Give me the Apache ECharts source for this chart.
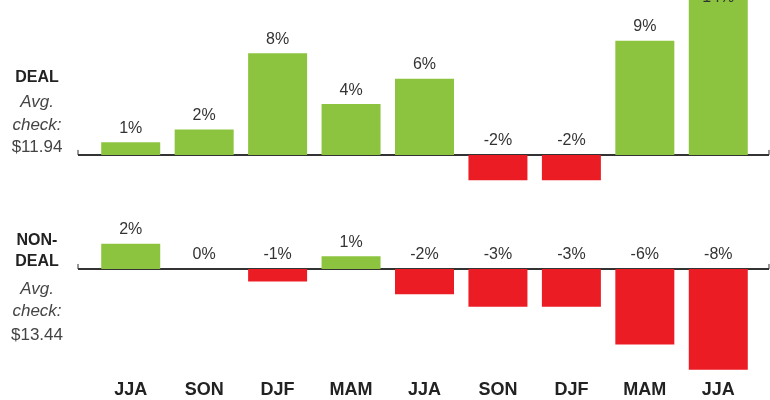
<!DOCTYPE html>
<html>
<head>
<meta charset="utf-8">
<script src="https://cdn.jsdelivr.net/npm/echarts@6/dist/echarts.min.js"></script>
<style>
  html, body { margin: 0; padding: 0; background: #fff; }
  #chart { width: 770px; height: 400px; }
</style>
</head>
<body>
<div id="chart"></div>
<script>
// seasons (quarters) on the x axis
const seasons = ['JJA', 'SON', 'DJF', 'MAM', 'JJA', 'SON', 'DJF', 'MAM', 'JJA'];
// percent change, deal vs non-deal
const dealValues = [1, 2, 8, 4, 6, -2, -2, 9, 14];
const nonDealValues = [2, 0, -1, 1, -2, -3, -3, -6, -8];

const GREEN = '#8cc43f';
const RED = '#ec1c24';
const FONT = '"Liberation Sans", Arial, sans-serif';

function barColor(p) {
  return p.value < 0 ? RED : GREEN;
}

let valueLabel = {
  show: true,
  position: 'top',
  distance: 6,
  formatter: '{c}%',
  color: '#333',
  fontSize: 16,
  fontFamily: FONT
}

// last deal bar runs off the top, label shows inside the cut
const dealData = dealValues.map((v, i) => {
  if (i === dealValues.length - 1) {
    return { value: v, label: { position: 'insideTop', offset: [0, -16] } }
  }
  return v
})

let option = {
  animation: false,
  grid: [
    { left: 94, right: 15, top: 0, height: 193 },
    { left: 94, right: 15, top: 206, height: 170 }
  ],
  xAxis: [
    {
      type: 'category', gridIndex: 0, data: seasons,
      axisLine: { show: false }, axisTick: { show: false }, axisLabel: { show: false }
    },
    {
      type: 'category', gridIndex: 1, data: seasons,
      axisLine: { show: false, onZero: false }, axisTick: { show: false },
      axisLabel: { color: '#222', fontSize: 18, fontWeight: 'bold', fontFamily: FONT, margin: 5 }
    }
  ],
  yAxis: [
    { type: 'value', gridIndex: 0, min: -3, max: 12.2, show: false },
    { type: 'value', gridIndex: 1, min: -8.5, max: 5, show: false }
  ],
  series: [
    {
      type: 'bar', xAxisIndex: 0, yAxisIndex: 0, data: dealData,
      barWidth: 59, itemStyle: { color: barColor }, label: valueLabel
    },
    {
      type: 'bar', xAxisIndex: 1, yAxisIndex: 1, data: nonDealValues,
      barWidth: 59, itemStyle: { color: barColor }, label: valueLabel
    }
  ]
}

let myChart = echarts.init(document.getElementById('chart'));
myChart.setOption(option);

// zero lines with small end ticks, plus the side labels
function sideText(lines, yList) {
  return lines.map((l, i) => ({
    type: 'text',
    style: {
      text: l.t, x: 37, y: yList[i], align: 'center', verticalAlign: 'middle',
      font: l.f, fill: l.c
    }
  }))
}

function zeroLine(yIdx) {
  const y = myChart.convertToPixel({ yAxisIndex: yIdx }, 0);
  const st = { stroke: '#333', lineWidth: 2 };
  return [
    { type: 'line', shape: { x1: 78, y1: y, x2: 769, y2: y }, style: st },
    { type: 'line', shape: { x1: 78, y1: y - 5, x2: 78, y2: y }, style: { stroke: '#333', lineWidth: 1 } },
    { type: 'line', shape: { x1: 769, y1: y - 5, x2: 769, y2: y }, style: { stroke: '#333', lineWidth: 1 } }
  ]
}

const bold = 'bold 16px ' + FONT;
const ital = 'italic 17px ' + FONT;
const norm = '17px ' + FONT;

myChart.setOption({
  graphic: [].concat(
    zeroLine(0),
    zeroLine(1),
    sideText([
      { t: 'DEAL', f: bold, c: '#222' },
      { t: 'Avg.', f: ital, c: '#444' },
      { t: 'check:', f: ital, c: '#444' },
      { t: '$11.94', f: norm, c: '#444' }
    ], [78, 102, 125, 147]),
    sideText([
      { t: 'NON-', f: bold, c: '#222' },
      { t: 'DEAL', f: bold, c: '#222' },
      { t: 'Avg.', f: ital, c: '#444' },
      { t: 'check:', f: ital, c: '#444' },
      { t: '$13.44', f: norm, c: '#444' }
    ], [241, 262, 289, 311, 335])
  )
});
</script>
</body>
</html>
